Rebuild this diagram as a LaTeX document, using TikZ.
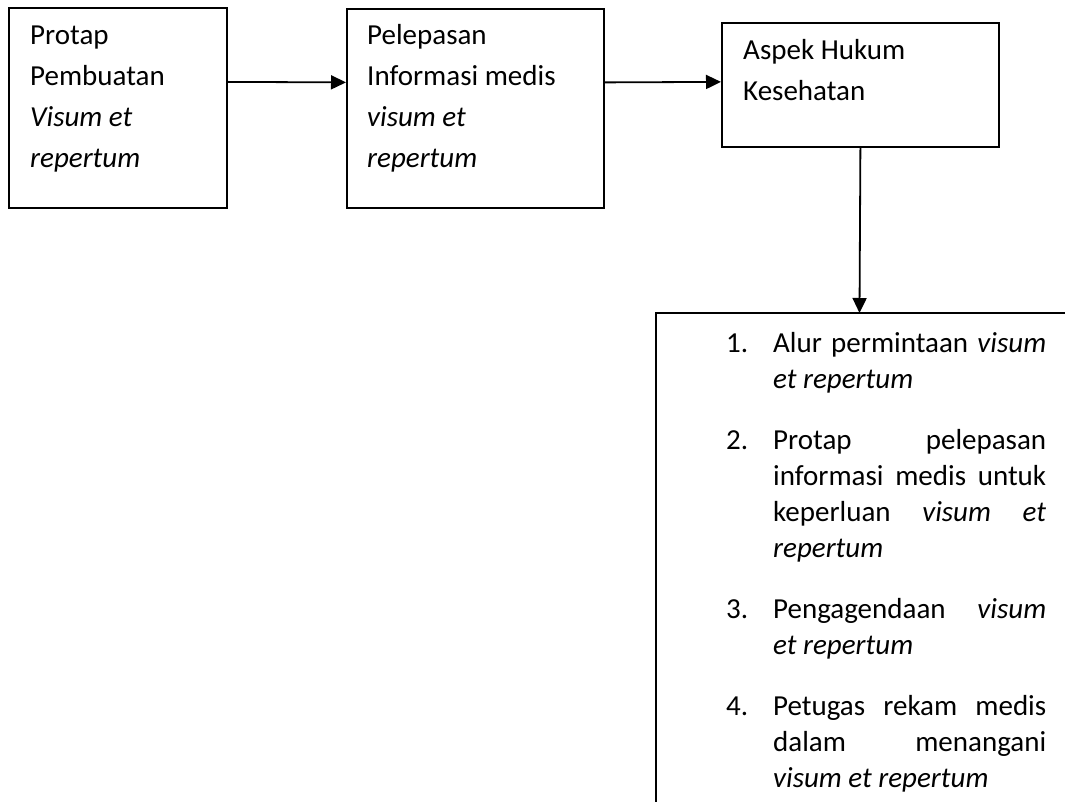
\documentclass[tikz,border=0pt]{standalone}
\usepackage{fontspec}
\setmainfont{Carlito}
\usetikzlibrary{arrows.meta}
\tikzset{
	kotak/.style={draw, line width=1.8pt, inner sep=0pt, anchor=north west},
	isi/.style={inner sep=0pt, anchor=base west, align=flush left, text width=240pt, font=\fontsize{29}{41}\selectfont},
	panah/.style={line width=1.8pt, -{Triangle[length=15pt,width=14pt]}}
}
\newcommand{\butir}[2]{\hangindent=47pt\hangafter=1\noindent\makebox[47pt][l]{#1}#2\par}
\begin{document}
\begin{tikzpicture}[x=1pt,y=-1pt]
	\useasboundingbox (0,0) rectangle (1065,802);
	\node[kotak, minimum width=218pt, minimum height=200pt] (protap) at (8,7) {};
	\node[kotak, minimum width=257pt, minimum height=199pt] (pelepasan) at (346,8) {};
	\node[kotak, minimum width=277pt, minimum height=124pt] (aspek) at (721,22) {};
	\node[isi] (protap-isi) at (30,45) {Protap\\Pembuatan\\\textit{Visum et}\\\textit{repertum}};
	\node[isi] (pelepasan-isi) at (367,45) {Pelepasan\\Informasi medis\\\textit{visum et}\\\textit{repertum}};
	\node[isi] (aspek-isi) at (743,60) {Aspek Hukum\\Kesehatan};
	\coordinate (daftar) at (859.5,313);
	\draw[line width=1.8pt] (656,802) |- (1065,313);
	\node[inner sep=0pt, anchor=base west, align=justify, text width=320pt, font=\fontsize{29}{36}\selectfont] (daftar-isi) at (726,352) {%
		\butir{1.}{Alur permintaan \textit{visum}\linebreak \textit{et repertum}}
		\vspace{25pt}
		\butir{2.}{Protap pelepasan\linebreak informasi medis untuk\linebreak keperluan \textit{visum et}\linebreak \textit{repertum}}
		\vspace{25pt}
		\butir{3.}{Pengagendaan \textit{visum}\linebreak \textit{et repertum}}
		\vspace{25pt}
		\butir{4.}{Petugas rekam medis\linebreak dalam menangani\linebreak \textit{visum et repertum}}};
	\draw[panah] ([yshift=26pt]protap.east) -- ([yshift=26pt]pelepasan.west);
	\draw[panah] ([yshift=26pt]pelepasan.east) -- ([yshift=3pt]aspek.west);
	\draw[panah] (aspek.south) -- (daftar);
\end{tikzpicture}
\end{document}
